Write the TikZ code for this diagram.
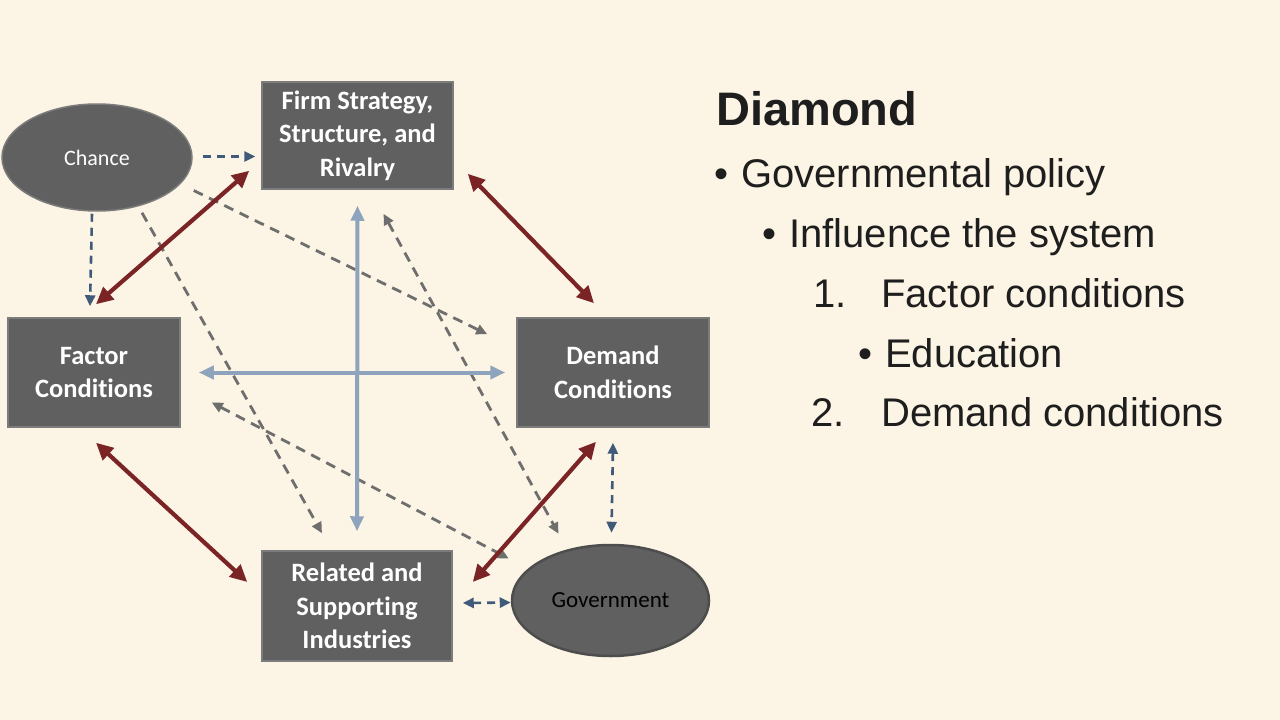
\documentclass[tikz,border=0pt]{standalone}
\usepackage{fontspec}
\setmainfont{Carlito}[Ligatures={NoCommon}]
\newfontfamily\arialfont{Liberation Sans}
\usetikzlibrary{arrows.meta,shapes.geometric}
\definecolor{bgcream}{HTML}{FCF4E4}
\definecolor{boxgray}{HTML}{606060}
\definecolor{boxedge}{HTML}{7C7C7C}
\definecolor{redarrow}{HTML}{7A2426}
\definecolor{bluearrow}{HTML}{8EA3BC}
\definecolor{navydash}{HTML}{405A7A}
\definecolor{graydash}{HTML}{6E6E6E}
\definecolor{textblack}{HTML}{1E1E1E}
\tikzset{
  sqbox/.style={rectangle, fill=boxgray, draw=boxedge, line width=1.5pt, text=white,
    align=center, inner sep=0pt, font=\bfseries\fontsize{26.5}{33.5}\selectfont},
  ovalnode/.style={ellipse, fill=boxgray, draw=boxedge, line width=1.5pt, inner sep=0pt,
    font=\fontsize{22}{25}\selectfont},
  redlink/.style={draw=redarrow, line width=4.2pt, {Triangle[length=17pt,width=16pt]}-{Triangle[length=17pt,width=16pt]}},
  bluelink/.style={draw=bluearrow, line width=4pt, {Triangle[length=15pt,width=13pt]}-{Triangle[length=15pt,width=13pt]}},
  navylink/.style={draw=navydash, line width=2.6pt, dash pattern=on 8pt off 6pt},
  graylink/.style={draw=graydash, line width=2.8pt, dash pattern=on 10pt off 7pt},
  smalltip/.style={-{Triangle[length=11pt,width=10pt]}},
  smalltips/.style={{Triangle[length=11pt,width=10pt]}-{Triangle[length=11pt,width=10pt]}},
  slidetext/.style={anchor=base west, inner sep=0pt, text=textblack, font=\arialfont\fontsize{40}{45}\selectfont},
}
\begin{document}
\begin{tikzpicture}[x=1pt,y=-1pt]
\fill[bgcream] (0,0) rectangle (1280,720);
\useasboundingbox (0,0) rectangle (1280,720);

% nodes
\node[sqbox, minimum width=191pt, minimum height=107pt] (firm) at (357.5,135.5) {Firm Strategy,\\Structure, and\\Rivalry};
\node[sqbox, minimum width=172pt, minimum height=109pt] (factor) at (94,372.5) {Factor\\Conditions};
\node[sqbox, minimum width=192pt, minimum height=109pt] (demand) at (613,372.5) {Demand\\Conditions};
\node[sqbox, minimum width=190pt, minimum height=110pt] (related) at (357,606) {Related and\\Supporting\\Industries};
\node[ovalnode, minimum width=190pt, minimum height=107pt, text=white] (chance) at (97,157.5) {Chance};
\node[ovalnode, minimum width=197pt, minimum height=111pt, draw=boxgray!80!black, line width=2.5pt, text=black, font=\fontsize{23}{26}\selectfont] (gov) at (610.5,600.5) {Government};

% gray dashed influences
\draw[graylink, smalltip] ([shift={(1,33)}]chance.east) -- ([shift={(-29,17)}]demand.north west);
\draw[graylink, smalltip] ([shift={(45,1)}]chance.south) -- ([shift={(-35,-17)}]related.north);
\draw[graylink, smalltips] ([shift={(26,24)}]firm.south) -- ([shift={(-52,-10)}]gov.north);
\draw[graylink, smalltips] ([shift={(31,30)}]factor.east) -- ([shift={(-2,-42)}]gov.west);

% navy dashed
\draw[navylink, smalltip] ([shift={(10,-1)}]chance.east) -- ([shift={(-6,21)}]firm.west);
\draw[navylink, smalltip] ([shift={(-5,2)}]chance.south) -- ([shift={(-4,-11)}]factor.north);
\draw[navylink, smalltips] ([shift={(0,15)}]demand.south) -- ([shift={(1,-11)}]gov.north);
\draw[navylink, smalltips] ([shift={(10,-3)}]related.east) -- ([shift={(0,2)}]gov.west);

% light blue cross
\draw[bluelink] ([shift={(0,16)}]firm.south) -- ([shift={(0,-19)}]related.north);
\draw[bluelink] ([shift={(18,0)}]factor.east) -- ([shift={(-11,0)}]demand.west);

% red diamond
\draw[redlink] ([shift={(-12,-19)}]firm.south west) -- ([shift={(2,-13)}]factor.north);
\draw[redlink] ([shift={(14,-16)}]firm.south east) -- ([shift={(-19,-14)}]demand.north);
\draw[redlink] ([shift={(2,15)}]factor.south) -- ([shift={(-14,-24)}]related.west);
\draw[redlink] ([shift={(-17,14)}]demand.south) -- ([shift={(20,-24)}]related.east);

% right text
\node[slidetext, font=\arialfont\bfseries\fontsize{47}{52}\selectfont] (title) at (716,125) {Diamond};
\node[slidetext] (b1dot) at (714,187) {\textbullet};
\node[slidetext] (b1) at (741,187) {Governmental policy};
\node[slidetext] (b2dot) at (762,247) {\textbullet};
\node[slidetext] (b2) at (789,247) {Influence the system};
\node[slidetext] (n1) at (813,307) {1.};
\node[slidetext] (n1t) at (881,307) {Factor conditions};
\node[slidetext] (b3dot) at (858,367) {\textbullet};
\node[slidetext] (b3) at (885,367) {Education};
\node[slidetext] (n2) at (811,426) {2.};
\node[slidetext] (n2t) at (881,426) {Demand conditions};
\end{tikzpicture}
\end{document}
